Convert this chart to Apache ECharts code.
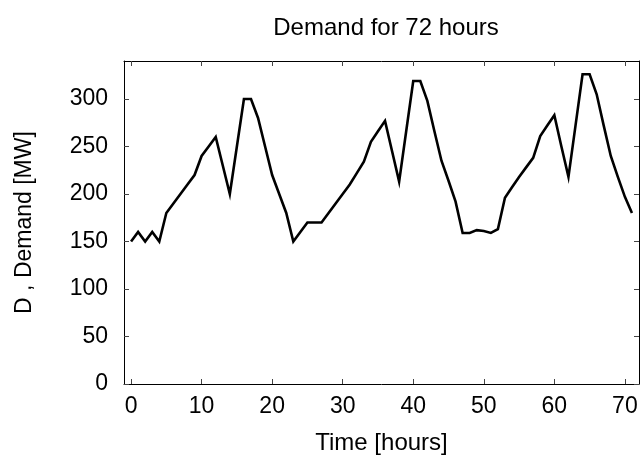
<!DOCTYPE html>
<html><head><meta charset="utf-8">
<script src="https://cdn.jsdelivr.net/npm/echarts@6/dist/echarts.min.js"></script>
<style>html,body{margin:0;padding:0;background:#fff}#c{width:644px;height:460px}</style>
</head><body><div id="c"></div>
<script>
const hours = Array.from({length:72}, (_, i) => i);
const demand = [150,160,150,160,150,180,190,200,210,220,240,250,260,230,200,250,300,300,280,250,220,200,180,150,160,170,170,170,180,190,200,210,222,234,255,266,277,245,213,266,319,319,298,266,235,214,192,159,159,162,161,159,163,196,207,218,228,238,261,272,283,250,218,272,326,326,305,272,240,218,197,180];
const xTicks = [0,10,20,30,40,50,60,70];
const yTicks = [0,50,100,150,200,250,300];
const titleText = 'Demand for 72 hours';
const xName = 'Time [hours]';
const yName = 'D , Demand [MW]';

const font = 'Liberation Sans, Arial, sans-serif';
const chart = echarts.init(document.getElementById('c'));
const tickStyle = {inside:true, length:5, lineStyle:{color:'#444', width:1}};
chart.setOption({
  animation:false,
  title:{text:titleText, left:381, top:11, textAlign:'center',
    textStyle:{fontFamily:font, fontSize:24, fontWeight:'normal', color:'#000'}},
  grid:{left:124, right:5, top:61, bottom:75, show:false},
  xAxis:[{
    type:'value', min:-1, max:72, position:'bottom',
    name:xName, nameLocation:'middle', nameGap:47,
    nameTextStyle:{fontFamily:font, fontSize:24, color:'#000'},
    axisLine:{show:true, onZero:false, lineStyle:{color:'#000', width:1}},
    axisTick:{show:true, customValues:xTicks, ...tickStyle},
    axisLabel:{customValues:xTicks, margin:11, fontFamily:font, fontSize:23, color:'#000'},
    splitLine:{show:false}
  },{
    type:'value', min:-1, max:72, position:'top',
    axisLine:{show:true, onZero:false, lineStyle:{color:'#000', width:1}},
    axisTick:{show:true, customValues:xTicks, ...tickStyle},
    axisLabel:{show:false}, splitLine:{show:false}
  }],
  yAxis:[{
    type:'value', min:0, max:340, position:'left',
    name:yName, nameLocation:'middle', nameGap:88, nameRotate:90,
    nameTextStyle:{fontFamily:font, fontSize:23, color:'#000'},
    axisLine:{show:true, onZero:false, lineStyle:{color:'#000', width:1}},
    axisTick:{show:true, customValues:yTicks, ...tickStyle},
    axisLabel:{customValues:yTicks, margin:16, fontFamily:font, fontSize:23, color:'#000'},
    splitLine:{show:false}
  },{
    type:'value', min:0, max:340, position:'right',
    axisLine:{show:true, onZero:false, lineStyle:{color:'#000', width:1}},
    axisTick:{show:true, customValues:yTicks, ...tickStyle},
    axisLabel:{show:false}, splitLine:{show:false}
  }],
  series:[{
    type:'line', xAxisIndex:0, yAxisIndex:0,
    data:hours.map((h,i)=>[h, demand[i]]),
    showSymbol:false, symbol:'none',
    lineStyle:{color:'#000', width:2.6, join:'miter'}
  }]
});
</script></body></html>
